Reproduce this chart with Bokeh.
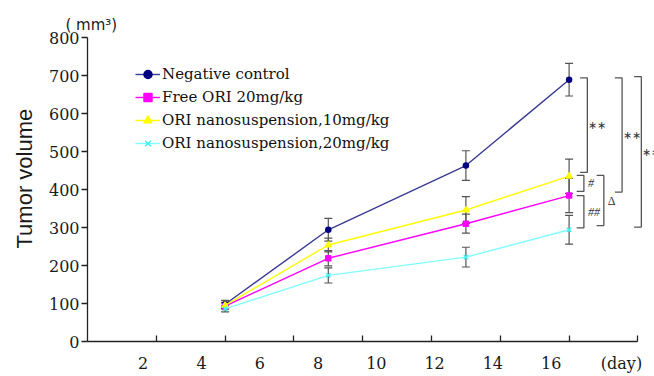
import numpy as np
from bokeh.plotting import figure
from bokeh.models import (Range1d, LinearAxis, FixedTicker, Whisker, ColumnDataSource,
                          Legend, LegendItem, LabelSet, TeeHead, Title)
from bokeh.embed import file_html
from bokeh.resources import INLINE

# ---------------- data ----------------
days = [4, 7, 11, 14]
series_names = ["Negative control", "Free ORI 20mg/kg",
                "ORI nanosuspension,10mg/kg", "ORI nanosuspension,20mg/kg"]
neg_mean = [98, 294, 463, 689]
neg_err = [10, 30, 39, 43]
free_mean = [93, 219, 310, 384]
free_err = [8, 20, 25, 45]
nano10_mean = [95, 254, 346, 435]
nano10_err = [8, 18, 35, 45]
nano20_mean = [86, 174, 222, 294]
nano20_err = [8, 20, 26, 38]

y_ticks = [0, 100, 200, 300, 400, 500, 600, 700, 800]
x_tick_days = [2, 4, 6, 8, 10, 12, 14, 16]
x_unit_label = "(day)"

# significance brackets (top value, bottom value, label)
bracket_top = [694, 437, 384, 437, 694, 697]
bracket_bottom = [445, 395, 299, 305, 393, 301]
bracket_label = ["\u2217\u2217", "#", "##", "\u0394", "\u2217\u2217", "\u2217\u2217"]

# ---------------- layout ----------------
W, H = 654, 376
PX_DAY = 34.4
FRAME_L, FRAME_R, FRAME_T, FRAME_B = 87, 654, 37, 341
LAB0_PX, LAB_STEP = 142.7, 29.14        # where the x tick labels sit
DAY_PX = 621                             # centre of "(day)"
YLAB_BOTTOM_PX = 248                     # where "Tumor volume" starts (bottom)
bracket_x = [14.53, 14.43, 14.43, 15.01, 15.54, 16.10]
ARM = 0.21

x_end = (FRAME_R - FRAME_L) / PX_DAY
p = figure(width=W, height=H, x_range=Range1d(0, x_end), y_range=Range1d(0, 800),
           x_axis_type=None, y_axis_type=None, toolbar_location=None,
           output_backend="svg", min_border_left=FRAME_L, min_border_right=W - FRAME_R,
           min_border_top=FRAME_T, min_border_bottom=H - FRAME_B)
p.outline_line_color = None
p.background_fill_color = "white"
p.border_fill_color = "white"

AX = "#222222"
TXT = "#1a1a1a"
SERIF = "DejaVu Serif"

# title used as the unit label
p.title.text = "( mm\u00b3)"
p.title.align = "left"
p.title.offset = 65 - FRAME_L
p.title.standoff = 8
p.title.text_font = "DejaVu Sans"
p.title.text_font_size = "15px"
p.title.text_font_style = "normal"
p.title.text_color = TXT

# y axis
yaxis = LinearAxis(ticker=FixedTicker(ticks=y_ticks), bounds=(0, 800))
yaxis.major_tick_in = 0
yaxis.major_tick_out = 6
yaxis.minor_tick_line_color = None
yaxis.axis_line_color = AX
yaxis.axis_line_width = 1.3
yaxis.major_tick_line_color = AX
yaxis.major_tick_line_width = 1.3
yaxis.major_label_standoff = 2
yaxis.major_label_text_font = SERIF
yaxis.major_label_text_font_size = "16px"
yaxis.major_label_text_color = TXT
p.add_layout(yaxis, "left")

# y title as a side title, placed where the reference has it
ytitle = Title(text="Tumor volume", align="left", offset=FRAME_B - YLAB_BOTTOM_PX,
               standoff=18, text_font="Liberation Sans", text_font_size="22px",
               text_font_style="normal", text_color=TXT)
p.add_layout(ytitle, "left")

# x axis with tick marks only
xaxis = LinearAxis(ticker=FixedTicker(ticks=x_tick_days), bounds=(0, 16))
xaxis.major_tick_in = 6
xaxis.major_tick_out = 0
xaxis.minor_tick_line_color = None
xaxis.axis_line_color = AX
xaxis.axis_line_width = 1.3
xaxis.major_tick_line_color = AX
xaxis.major_tick_line_width = 1.3
xaxis.major_label_overrides = {t: "" for t in x_tick_days}
xaxis.major_label_text_font_size = "0px"
xaxis.major_label_standoff = 0
p.add_layout(xaxis, "below")

# x axis carrying the (offset) tick labels and "(day)"
lab0 = 2 - (LAB0_PX - FRAME_L) / LAB_STEP
lab1 = 2 + (FRAME_R - LAB0_PX) / LAB_STEP
p.extra_x_ranges = {"lab": Range1d(lab0, lab1)}
dc = round(2 + (DAY_PX - LAB0_PX) / LAB_STEP, 3)
laxis = LinearAxis(x_range_name="lab", ticker=FixedTicker(ticks=x_tick_days + [dc]))
laxis.major_label_overrides = {dc: x_unit_label}
laxis.axis_line_color = None
laxis.major_tick_line_color = None
laxis.major_tick_in = 0
laxis.major_tick_out = 0
laxis.minor_tick_line_color = None
laxis.major_label_standoff = 12
laxis.major_label_text_font = SERIF
laxis.major_label_text_font_size = "16px"
laxis.major_label_text_color = TXT
p.add_layout(laxis, "below")

# ---------------- series ----------------
styles = [
    dict(line="#3a3a94", fill="#000080", marker="circle", size=5),
    dict(line="#ff00ff", fill="#ff00ff", marker="square", size=5),
    dict(line="#ffff00", fill="#ffff00", marker="triangle", size=6),
    dict(line="#80ffff", fill="#40f0f0", marker="x", size=6),
]
means = [neg_mean, free_mean, nano10_mean, nano20_mean]
errs = [neg_err, free_err, nano10_err, nano20_err]

items = []
for name, m, e, st in zip(series_names, means, errs, styles):
    m = np.array(m, dtype=float)
    e = np.array(e, dtype=float)
    src = ColumnDataSource(dict(x=days, y=m, upper=m + e, lower=m - e))
    wh = Whisker(source=src, base="x", upper="upper", lower="lower",
                 line_color="#555555", line_width=1.2,
                 upper_head=TeeHead(size=8, line_color="#555555", line_width=1.2),
                 lower_head=TeeHead(size=8, line_color="#555555", line_width=1.2))
    p.add_layout(wh)
    lr = p.line("x", "y", source=src, line_color=st["line"], line_width=1.4)
    sr = p.scatter("x", "y", source=src, marker=st["marker"], size=st["size"],
                   fill_color=st["fill"], line_color=st["fill"], line_width=1.5)
    items.append(LegendItem(label=name, renderers=[lr, sr]))

legend = Legend(items=items, location=(135 - FRAME_L, FRAME_B - 153),
                border_line_color=None, background_fill_alpha=0, padding=0, margin=0,
                spacing=3, glyph_height=20, glyph_width=25, label_height=20,
                label_standoff=2, label_text_font=SERIF, label_text_font_size="15px",
                label_text_color="#111111")
p.add_layout(legend)

# ---------------- brackets ----------------
bxs, bys = [], []
for bx, t, b in zip(bracket_x, bracket_top, bracket_bottom):
    bxs.append([bx - ARM, bx, bx, bx - ARM])
    bys.append([t, t, b, b])
p.multi_line(bxs, bys, line_color="#555555", line_width=1.3)

mids = [(t + b) / 2 for t, b in zip(bracket_top, bracket_bottom)]
groups = {
    "star": [i for i, s in enumerate(bracket_label) if "\u2217" in s],
    "hash": [i for i, s in enumerate(bracket_label) if "#" in s],
    "delta": [i for i, s in enumerate(bracket_label) if "\u0394" in s],
}
fmt = {
    "star": dict(text_font="DejaVu Sans", text_font_size="11px", text_font_style="normal", x_offset=1),
    "hash": dict(text_font=SERIF, text_font_size="12px", text_font_style="italic", x_offset=4),
    "delta": dict(text_font=SERIF, text_font_size="12px", text_font_style="normal", x_offset=4),
}
for key, idx in groups.items():
    src = ColumnDataSource(dict(x=[bracket_x[i] for i in idx], y=[mids[i] for i in idx],
                                text=[bracket_label[i] for i in idx]))
    p.add_layout(LabelSet(source=src, x="x", y="y", text="text", text_color="#333333",
                          text_align="left", text_baseline="middle", **fmt[key]))

open("out.html", "w").write(file_html(p, INLINE))
